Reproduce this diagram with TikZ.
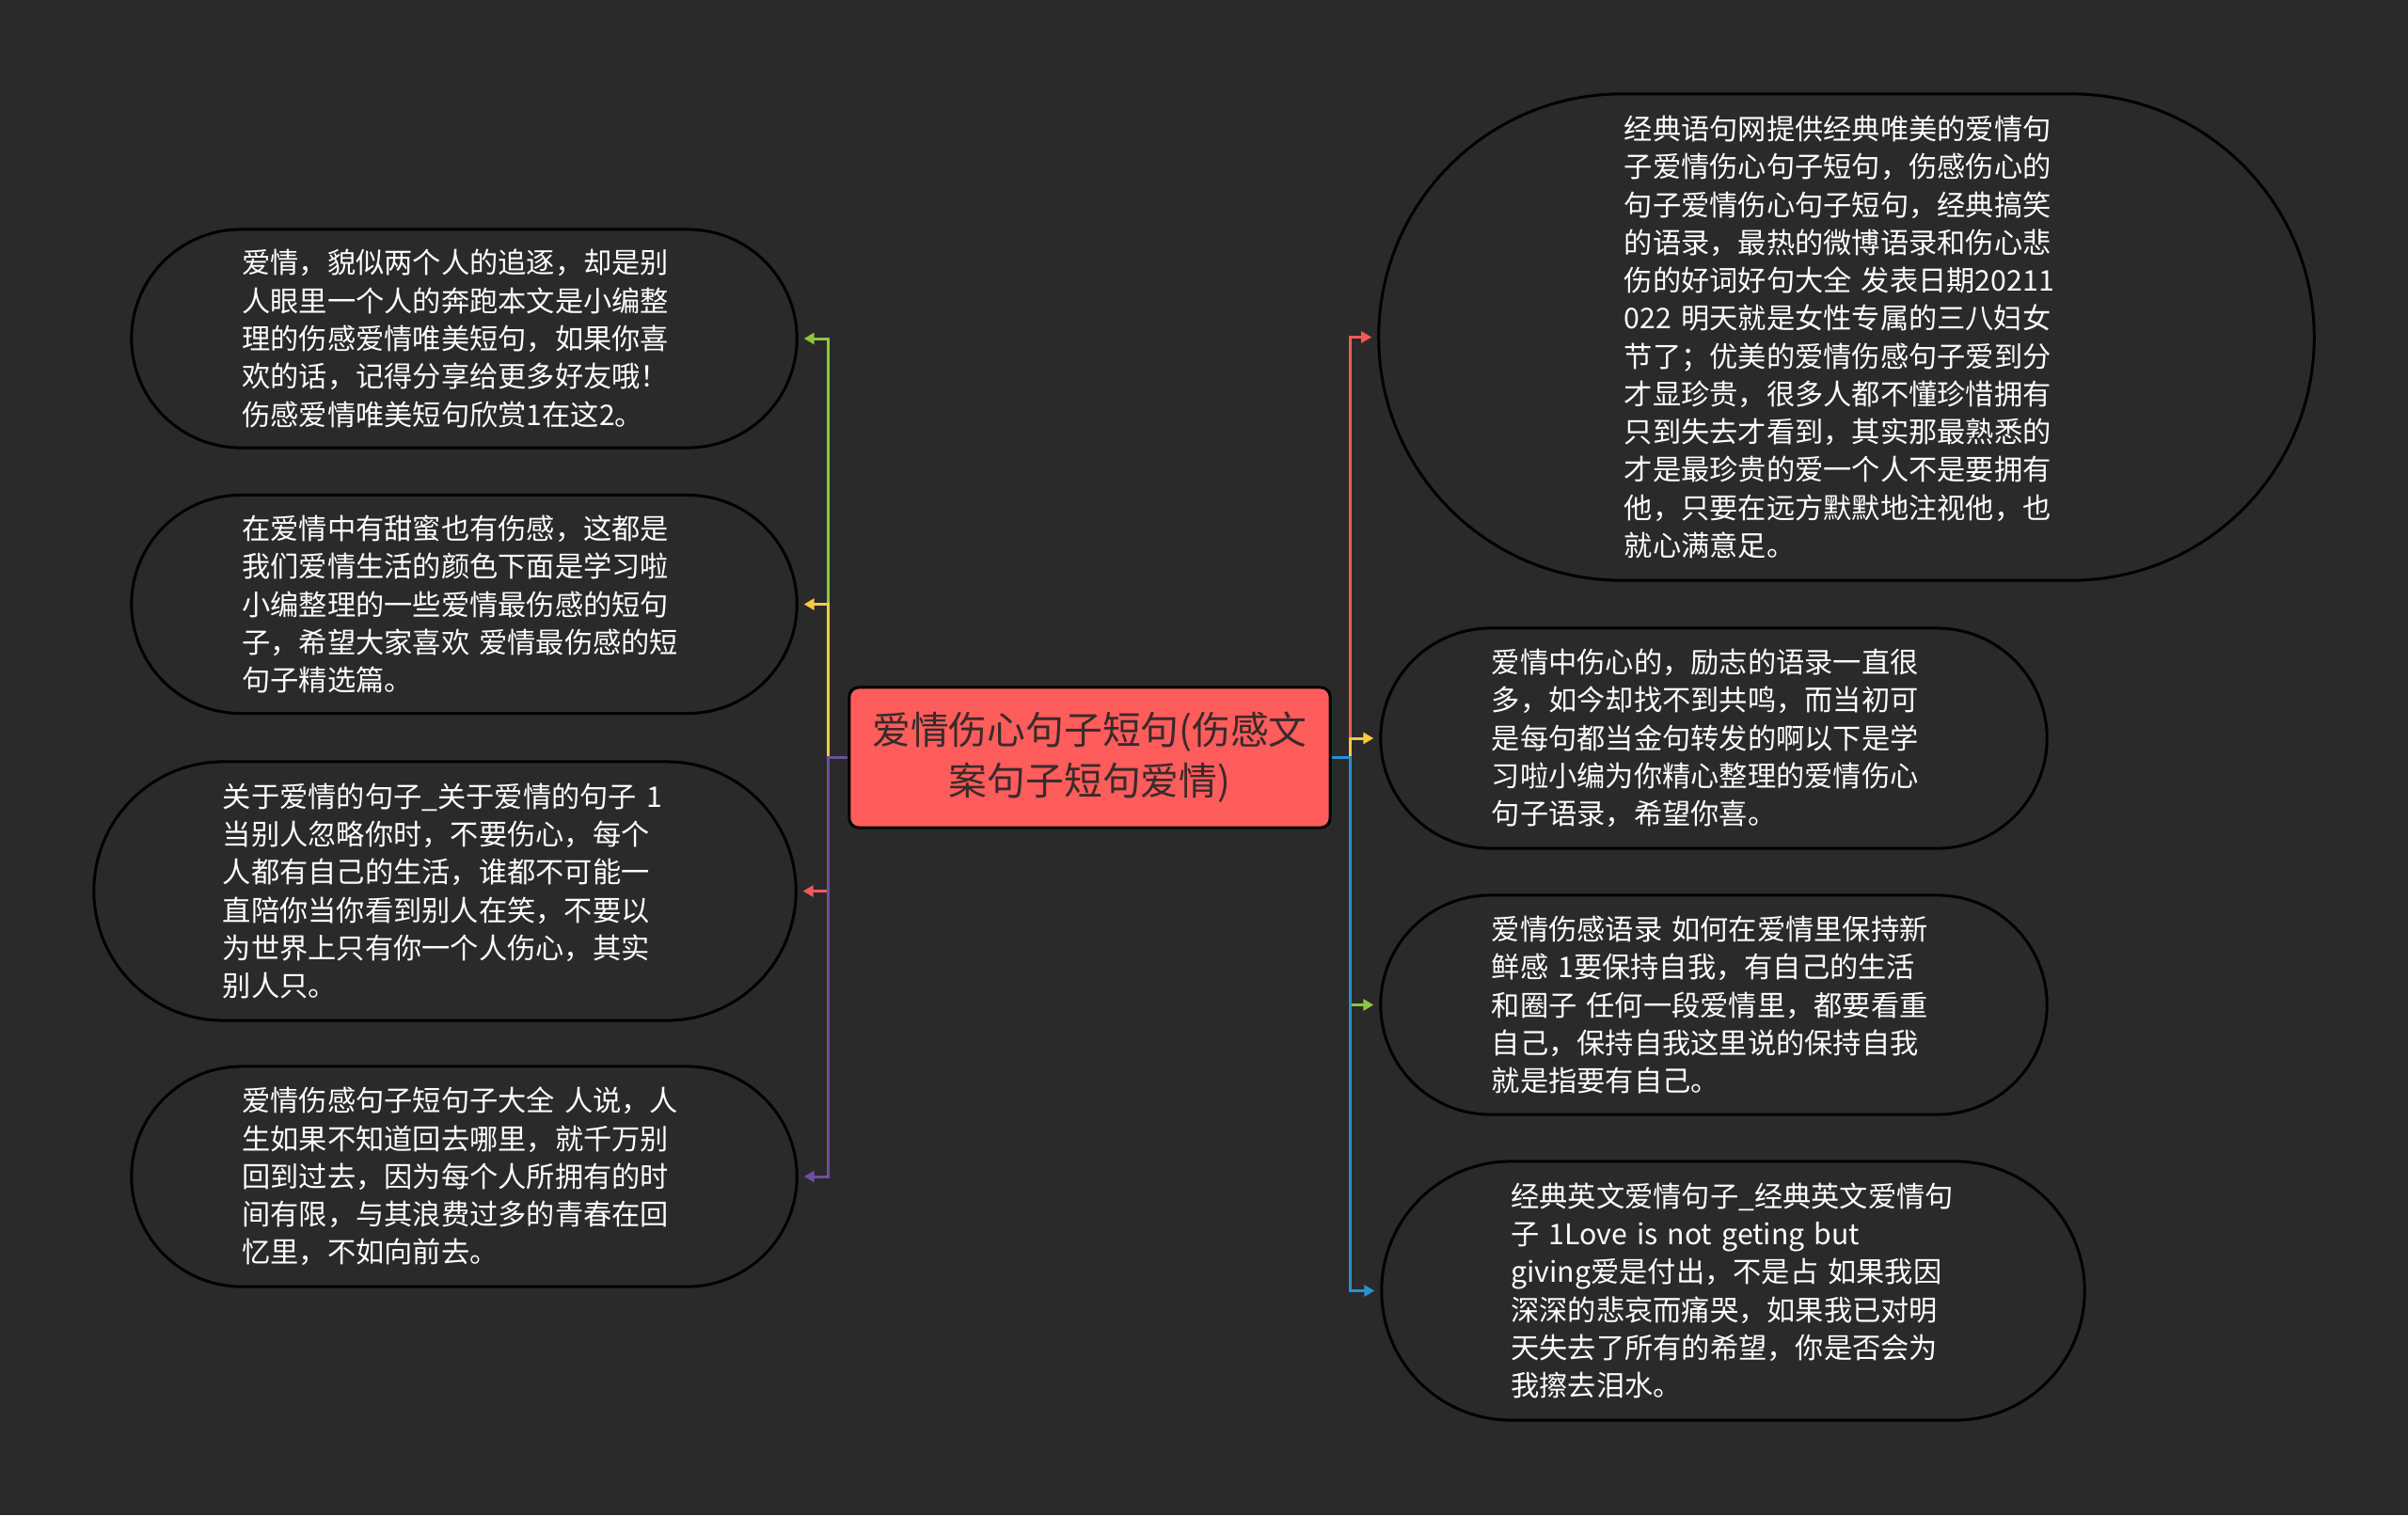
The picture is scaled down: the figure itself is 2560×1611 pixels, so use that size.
\documentclass[tikz,border=0pt]{standalone}
\usepackage{fontspec}
\setmainfont{Noto Sans CJK SC}
\usepackage{tikz}
\usetikzlibrary{arrows.meta}
\definecolor{bgc}{HTML}{2A2A2A}
\definecolor{rootc}{HTML}{FF5C5C}
\definecolor{titc}{HTML}{3A2A2A}
\definecolor{lgreen}{HTML}{8CC63F}
\definecolor{lyellow}{HTML}{F7C843}
\definecolor{lred}{HTML}{F05A5A}
\definecolor{lpurple}{HTML}{6C4F9F}
\definecolor{lblue}{HTML}{2B8FD1}

\begin{document}
\begin{tikzpicture}[x=0.01cm,y=-0.01cm,
    every node/.style={inner sep=0pt},
    leaf/.style 2 args={draw=black,line width=0.3mm,fill=bgc,text=white,
      minimum width=#1mm,minimum height=#2mm,rounded corners=#2*0.5mm,
      text width=47.2mm,align=left,font=\fontsize{8.6pt}{11.45pt}\selectfont},
    rootbox/.style={draw=black,line width=0.3mm,fill=rootc,text=titc,
      minimum width=51.1mm,minimum height=14.9mm,rounded corners=1mm,
      align=center,font=\fontsize{11.6pt}{15.3pt}\selectfont},
    link/.style={line width=0.3mm,-{Triangle[length=1.1mm,width=1.2mm]}}]
  \fill[bgc] (0,0) rectangle (2560,1611);
  \useasboundingbox (0,0) rectangle (2560,1611);
  \node[rootbox] (root) at (1158.5,805.5) {爱情伤心句子短句(伤感文\\案句子短句爱情)};
  \node[leaf={70.7}{23.2}] (l1) at (493.5,360) {爱情，貌似两个人的追逐，却是别\\人眼里一个人的奔跑本文是小编整\\理的伤感爱情唯美短句，如果你喜\\欢的话，记得分享给更多好友哦！\\伤感爱情唯美短句欣赏1在这2。};
  \node[leaf={70.7}{23.2}] (l2) at (493.5,642.5) {在爱情中有甜蜜也有伤感，这都是\\我们爱情生活的颜色下面是学习啦\\小编整理的一些爱情最伤感的短句\\子，希望大家喜欢~爱情最伤感的短\\句子精选篇。};
  \node[leaf={74.6}{27.5}] (l3) at (473,947.5) {关于爱情的句子\_关于爱情的句子~1\\当别人忽略你时，不要伤心，每个\\人都有自己的生活，谁都不可能一\\直陪你当你看到别人在笑，不要以\\为世界上只有你一个人伤心，其实\\别人只。};
  \node[leaf={70.7}{23.4}] (l4) at (493.5,1251) {爱情伤感句子短句子大全~人说，人\\生如果不知道回去哪里，就千万别\\回到过去，因为每个人所拥有的时\\间有限，与其浪费过多的青春在回\\忆里，不如向前去。};
  \node[leaf={99.4}{51.7}] (r1) at (1963,358.5) {经典语句网提供经典唯美的爱情句\\子爱情伤心句子短句，伤感伤心的\\句子爱情伤心句子短句，经典搞笑\\的语录，最热的微博语录和伤心悲\\伤的好词好句大全~发表日期20211\\022~明天就是女性专属的三八妇女\\节了；优美的爱情伤感句子爱到分\\才显珍贵，很多人都不懂珍惜拥有\\只到失去才看到，其实那最熟悉的\\才是最珍贵的爱一个人不是要拥有\\他，只要在远方默默地注视他，也\\就心满意足。};
  \node[leaf={70.8}{23.4}] (r2) at (1822,785) {爱情中伤心的，励志的语录一直很\\多，如今却找不到共鸣，而当初可\\是每句都当金句转发的啊以下是学\\习啦小编为你精心整理的爱情伤心\\句子语录，希望你喜。};
  \node[leaf={70.8}{23.3}] (r3) at (1822,1068.5) {爱情伤感语录~如何在爱情里保持新\\鲜感~1要保持自我，有自己的生活\\和圈子~任何一段爱情里，都要看重\\自己，保持自我这里说的保持自我\\就是指要有自己。};
  \node[leaf={74.7}{27.5}] (r4) at (1842.5,1372.5) {经典英文爱情句子\_经典英文爱情句\\子~1Love is not geting but\\giving爱是付出，不是占~如果我因\\深深的悲哀而痛哭，如果我已对明\\天失去了所有的希望，你是否会为\\我擦去泪水。};
  \foreach \n/\c in {l1/lgreen,l2/lyellow,l3/lred,l4/lpurple}
     \draw[link,\c] (root.west) -- ++(-2.1mm,0) |- ([xshift=0.6mm]\n.east);
  \foreach \n/\c in {r1/lred,r2/lyellow,r3/lgreen,r4/lblue}
     \draw[link,\c] (root.east) -- ++(2mm,0) |- ([xshift=-0.6mm]\n.west);
\end{tikzpicture}
\end{document}
